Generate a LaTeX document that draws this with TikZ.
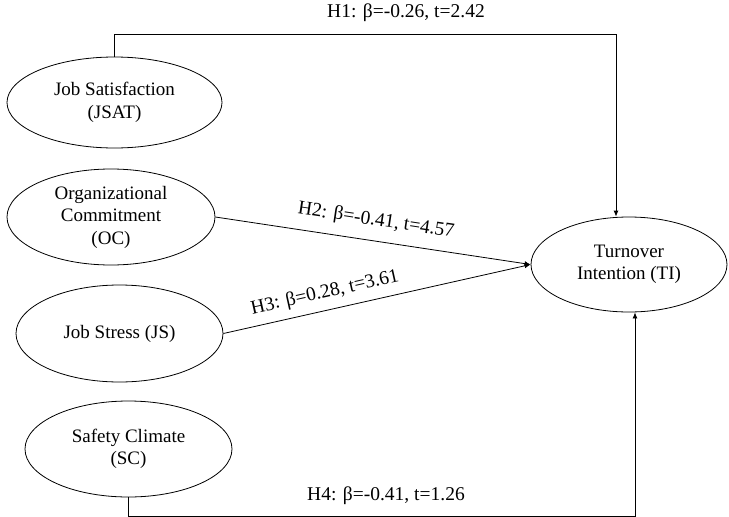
\documentclass[tikz,border=0pt]{standalone}
\usepackage{fontspec}
\setmainfont{Liberation Serif}
\usetikzlibrary{shapes.geometric,arrows.meta}
\tikzset{
  latent/.style={ellipse, draw, line width=0.8pt, inner sep=0pt, align=center,
    font=\fontsize{19}{22.5}\selectfont},
  arr/.style={line width=0.8pt, -{Latex[length=6pt,width=5pt]}},
  lab/.style={inner sep=0pt, font=\fontsize{19.5}{22}\selectfont}
}
\begin{document}
\begin{tikzpicture}[x=1pt,y=-1pt]
\useasboundingbox (0,0) rectangle (729,517);
\node[latent, minimum width=215pt, minimum height=91pt] (jsat) at (114.5,102.5) {Job Satisfaction\\(JSAT)};
\node[latent, minimum width=208pt, minimum height=96pt] (oc) at (111,217) {Organizational\\Commitment\\(OC)};
\node[latent, minimum width=207pt, minimum height=97pt] (js) at (119.5,333.5) {Job Stress (JS)};
\node[latent, minimum width=207pt, minimum height=96pt] (sc) at (128.5,449) {Safety Climate\\(SC)};
\node[latent, minimum width=196pt, minimum height=95pt] (ti) at (629,264.5) {Turnover\\Intention (TI)};

\draw[arr] (jsat.north) -- ++(0,-22.5) -| ([xshift=-13pt]ti.north);
\node[lab] (h1) at (406,13) {H1: β=-0.26, t=2.42};

\draw[arr] (oc.east) -- (ti.west) node[lab, pos=0.5, sloped, above=11pt] (h2) {H2: β=-0.41, t=4.57};
\draw[arr] (js.east) -- (ti.west) node[lab, pos=0.343, sloped, above=8pt] (h3) {H3: β=0.28, t=3.61};

\draw[arr] (sc.south) -- ++(0,19) -| ([xshift=6pt]ti.south);
\node[lab] (h4) at (386,496) {H4: β=-0.41, t=1.26};
\end{tikzpicture}
\end{document}
